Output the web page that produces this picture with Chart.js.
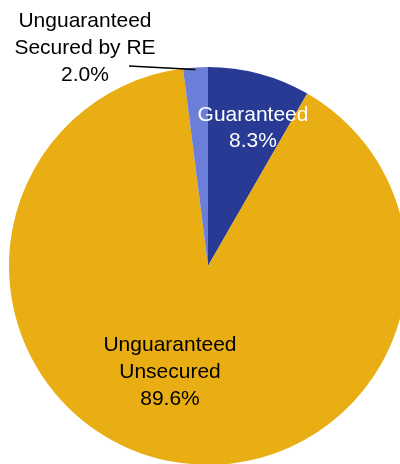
<!DOCTYPE html>
<html>
<head>
<meta charset="utf-8">
<script src="https://cdn.jsdelivr.net/npm/chart.js@4/dist/chart.umd.min.js"></script>
<style>
html,body{margin:0;padding:0;width:400px;height:464px;overflow:hidden;background:#fff;}
#wrap{position:absolute;left:0;top:0;width:416px;height:532px;}
</style>
</head>
<body>
<div id="wrap"><canvas id="c"></canvas></div>
<script>
const categories = ["Guaranteed", "Unguaranteed Unsecured", "Unguaranteed Secured by RE"];
const values = [8.3, 89.6, 2.0];
const colors = ["#283A94", "#E9AE13", "#6B7FD8"];
const labelLines = [["Guaranteed", "8.3%"], ["Unguaranteed", "Unsecured", "89.6%"], ["Unguaranteed", "Secured by RE", "2.0%"]];

const labelPlugin = {
  id: 'labels',
  afterDraw(chart) {
    const ctx = chart.ctx;
    const arcs = chart.getDatasetMeta(0).data;
    const cx = arcs[0].x, cy = arcs[0].y;
    ctx.save();
    ctx.font = '21px "Liberation Sans", Arial, sans-serif';
    ctx.textAlign = 'center';
    ctx.textBaseline = 'alphabetic';
    ctx.fillStyle = '#ffffff';
    const g = labelLines[0];
    g.forEach((t, i) => ctx.fillText(t, cx + 45, cy - 145 + i * 26));
    ctx.fillStyle = '#000000';
    const u = labelLines[1];
    u.forEach((t, i) => ctx.fillText(t, cx - 38, cy + 85 + i * 27));
    const r = labelLines[2];
    r.forEach((t, i) => ctx.fillText(t, 85, 27 + i * 27));
    const a = arcs[2];
    const mid = (a.startAngle + a.endAngle) / 2;
    const ex = a.x + Math.cos(mid) * a.outerRadius;
    const ey = a.y + Math.sin(mid) * a.outerRadius;
    ctx.strokeStyle = '#000';
    ctx.lineWidth = 1.5;
    ctx.beginPath();
    ctx.moveTo(129, 66);
    ctx.lineTo(ex, ey + 2);
    ctx.stroke();
    ctx.restore();
  }
};

new Chart(document.getElementById('c'), {
  type: 'pie',
  data: {
    labels: categories,
    datasets: [{
      data: values,
      backgroundColor: colors,
      borderWidth: 0,
      clip: false
    }]
  },
  options: {
    responsive: true,
    maintainAspectRatio: false,
    animation: false,
    layout: { padding: 9 },
    plugins: {
      legend: { display: false },
      tooltip: { enabled: false }
    }
  },
  plugins: [labelPlugin]
});
</script>
</body>
</html>
